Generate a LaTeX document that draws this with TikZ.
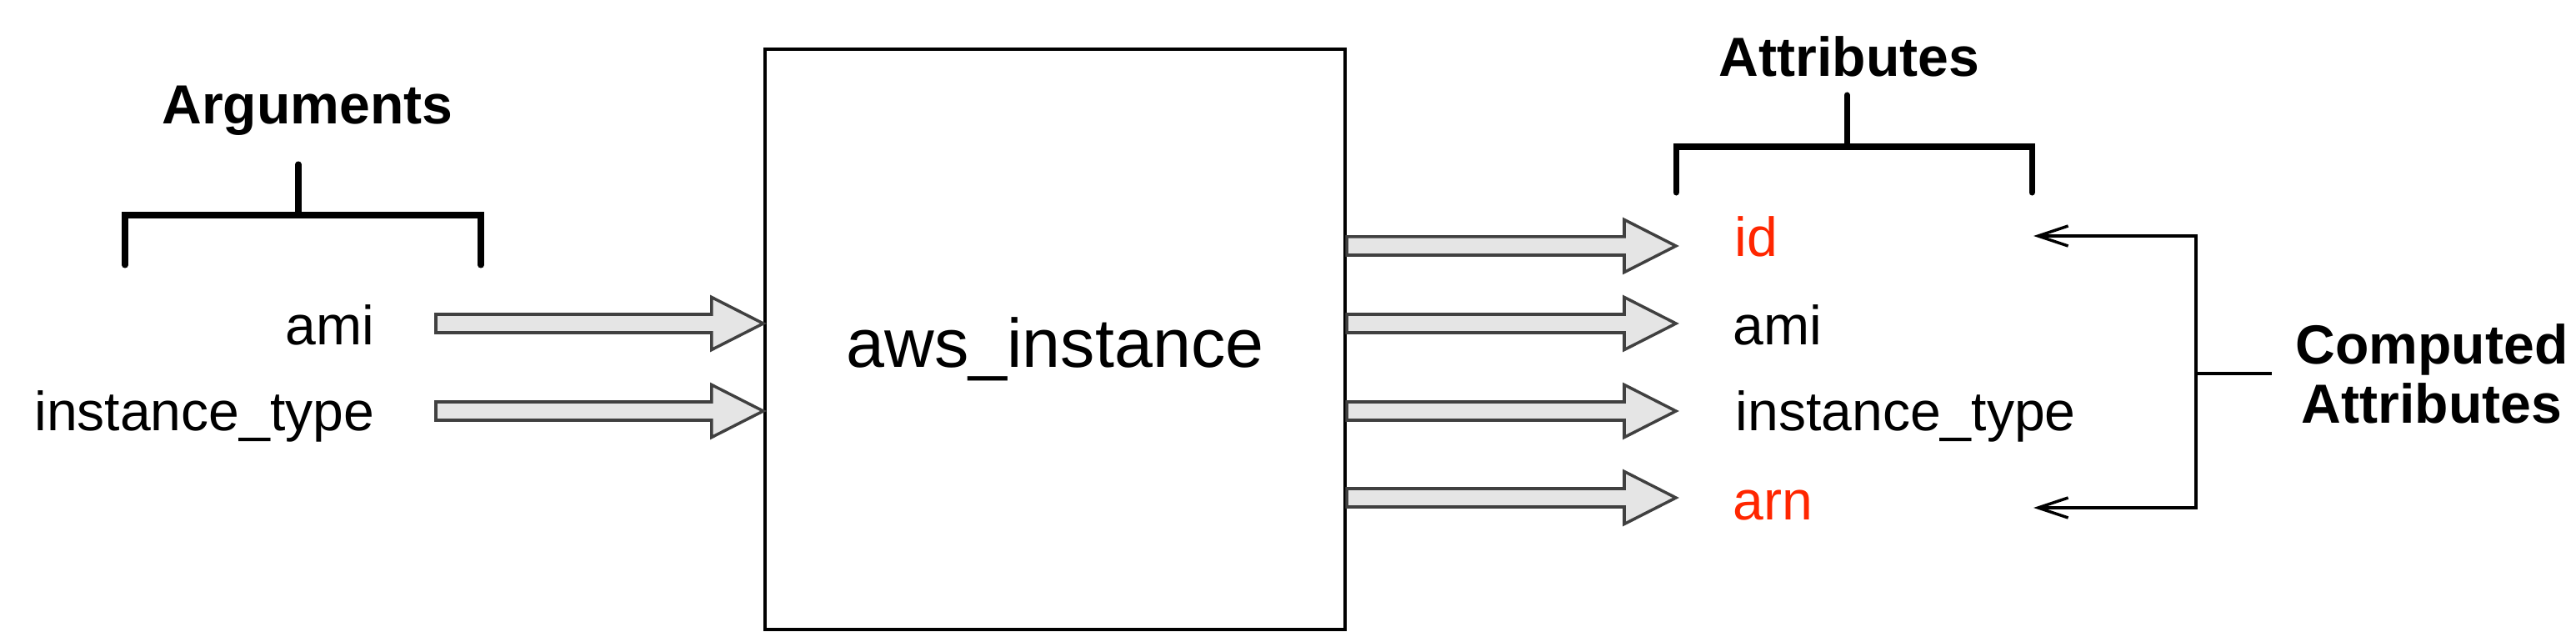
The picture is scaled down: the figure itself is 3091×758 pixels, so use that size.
\documentclass[tikz,border=0pt]{standalone}
\usepackage{fontspec}
\setmainfont{Liberation Sans}
\usetikzlibrary{calc,arrows.meta}
\definecolor{attred}{RGB}{255,38,0}
\definecolor{arrfill}{RGB}{229,229,229}
\definecolor{arrline}{RGB}{64,64,64}
\begin{document}
\begin{tikzpicture}[x=0.01cm,y=-0.01cm,>={Straight Barb[length=3.6mm,width=2.4mm]},
    txt/.style={font=\fontsize{18.8}{20.2}\selectfont,inner sep=0pt},
    hdr/.style={font=\fontsize{18.8}{20.2}\selectfont\bfseries,inner sep=0pt},
    bracket/.style={line width=2pt,line cap=round},
    link/.style={line width=1pt},
    fat/.style={draw=arrline,fill=arrfill,line width=1pt,
      to path={let \p1=(\tikztostart),\p2=(\tikztotarget) in
        (\x1,\y1+0.11cm) -- (\x2-0.62cm,\y1+0.11cm) -- (\x2-0.62cm,\y1+0.315cm)
        -- (\x2,\y1) -- (\x2-0.62cm,\y1-0.315cm) -- (\x2-0.62cm,\y1-0.11cm)
        -- (\x1,\y1-0.11cm) -- cycle}}]
\useasboundingbox (0,0) rectangle (3091,758);

\node[draw,line width=1.1pt,minimum width=6.96cm,minimum height=6.96cm,inner sep=0pt] (box) at (1266,407) {};
\node[anchor=base,font=\fontsize{23.5}{26}\selectfont,inner sep=0pt] (name) at (1266,441) {aws\_instance};

% arguments
\node[hdr,anchor=base] (args) at (369,149) {Arguments};
\draw[bracket] (150,318) -- (150,258) -- (577,258) -- (577,318);
\draw[bracket] (358,197) -- (358,258);
\node[txt,anchor=base east] (inami) at (450,413) {ami};
\node[txt,anchor=base east] (intype) at (450,516) {instance\_type};
\coordinate (la) at (523,388);
\coordinate (lb) at (523,493);
\draw[fat] (la) to (la -| box.west);
\draw[fat] (lb) to (lb -| box.west);

% attributes
\node[hdr,anchor=base] (attrs) at (2219,92) {Attributes};
\draw[bracket] (2011,231) -- (2011,176) -- (2438,176) -- (2438,231);
\draw[bracket] (2216,114) -- (2216,176);
\node[txt,anchor=base west,text=attred] (outid) at (2081,308) {id};
\node[txt,anchor=base west] (outami) at (2079,413) {ami};
\node[txt,anchor=base west] (outtype) at (2082,516) {instance\_type};
\node[txt,anchor=base west,text=attred] (outarn) at (2079,623) {arn};
\coordinate (ra) at (2011,295);
\coordinate (rb) at (2011,388);
\coordinate (rc) at (2011,493);
\coordinate (rd) at (2011,597);
\draw[fat] (ra -| box.east) to (ra);
\draw[fat] (rb -| box.east) to (rb);
\draw[fat] (rc -| box.east) to (rc);
\draw[fat] (rd -| box.east) to (rd);

% computed
\node[hdr,align=center,inner xsep=0.28cm] (comp) at (2918,448) {Computed\\Attributes};
\coordinate (fork) at (2635,448);
\coordinate (idin) at (2440,283);
\coordinate (arnin) at (2440,609);
\draw[link,->] (fork) |- (idin);
\draw[link,->] (fork) |- (arnin);
\draw[link] (fork) -- (comp.west);
\end{tikzpicture}
\end{document}
